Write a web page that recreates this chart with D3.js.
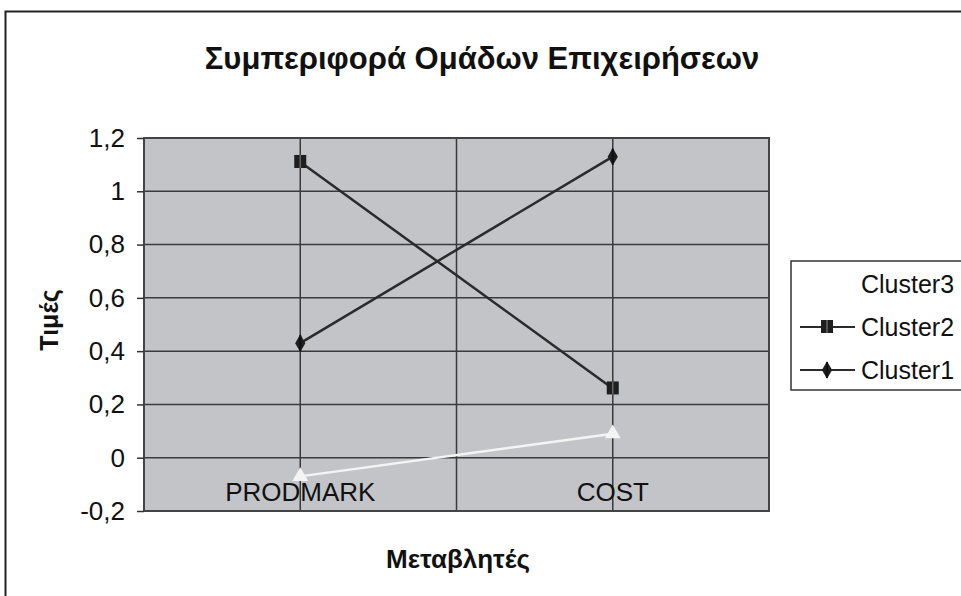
<!DOCTYPE html>
<html>
<head>
<meta charset="utf-8">
<script src="https://cdn.jsdelivr.net/npm/d3@7"></script>
<style>
  body { margin: 0; background: #fff; }
  svg { display: block; font-family: "Liberation Sans", Arial, sans-serif; }
</style>
</head>
<body>
<div id="chart"></div>
<script>
let W = 961, H = 596;
let title = "Συμπεριφορά Ομάδων Επιχειρήσεων";
let xTitle = "Μεταβλητές";
let yTitle = "Τιμές";
let categories = ["PRODMARK", "COST"];
let seriesNames = ["Cluster3", "Cluster2", "Cluster1"];
let cluster1 = [0.43, 1.13];
let cluster2 = [1.11, 0.26];
let cluster3 = [-0.07, 0.09];
let yTicks = [-0.2, 0, 0.2, 0.4, 0.6, 0.8, 1, 1.2];
let yTickLabels = ["-0,2", "0", "0,2", "0,4", "0,6", "0,8", "1", "1,2"];

let plot = { left: 144, right: 769, top: 138, bottom: 511 };

let svg = d3.select('#chart').append('svg')
    .attr('width', W)
    .attr('height', H);

// outer frame
svg.append('rect')
    .attr('x', 5.5).attr('y', 11.5)
    .attr('width', W + 20).attr('height', H + 20)
    .attr('fill', '#fff')
    .attr('stroke', '#222')
    .attr('stroke-width', 2);

svg.append('text')
    .attr('x', 482).attr('y', 69)
    .attr('text-anchor', 'middle')
    .attr('font-size', 31).attr('font-weight', 'bold')
    .attr('fill', '#111')
    .text(title);

let x = d3.scaleBand()
    .domain(categories)
    .range([plot.left, plot.right]);
let y = d3.scaleLinear()
    .domain([-0.2, 1.2])
    .range([plot.bottom, plot.top]);

// plot background
svg.append('rect')
    .attr('x', plot.left).attr('y', plot.top)
    .attr('width', plot.right - plot.left)
    .attr('height', plot.bottom - plot.top)
    .attr('fill', '#c2c4c7');

// horizontal gridlines
svg.append('g')
    .selectAll('line')
    .data(yTicks)
    .join('line')
    .attr('x1', plot.left).attr('x2', plot.right)
    .attr('y1', d => y(d)).attr('y2', d => y(d))
    .attr('stroke', '#3a3a3a')
    .attr('stroke-width', 1.5);

// vertical gridlines: category centres and boundaries
let vLines = [];
categories.forEach(c => {
    vLines.push(x(c));
    vLines.push(x(c) + x.bandwidth() / 2);
});
svg.append('g')
    .selectAll('line')
    .data(vLines)
    .join('line')
    .attr('x1', d => d).attr('x2', d => d)
    .attr('y1', plot.top).attr('y2', plot.bottom)
    .attr('stroke', '#3a3a3a')
    .attr('stroke-width', 1.5);

// plot border
svg.append('rect')
    .attr('x', plot.left).attr('y', plot.top)
    .attr('width', plot.right - plot.left)
    .attr('height', plot.bottom - plot.top)
    .attr('fill', 'none')
    .attr('stroke', '#444')
    .attr('stroke-width', 2);

// y axis
let yAxis = d3.axisLeft(y)
    .tickValues(yTicks)
    .tickSize(7)
    .tickPadding(12)
    .tickFormat((d, i) => yTickLabels[i]);
let gy = svg.append('g')
    .attr('transform', `translate(${plot.left},0)`)
    .call(yAxis);
gy.select('.domain').remove();
gy.selectAll('.tick line').attr('stroke', '#333').attr('stroke-width', 1.5);
gy.selectAll('.tick text')
    .attr('font-size', 26)
    .attr('font-family', '"Liberation Sans", Arial, sans-serif')
    .attr('fill', '#111');

// category labels inside plot bottom
svg.append('g')
    .selectAll('text')
    .data(categories)
    .join('text')
    .attr('x', d => x(d) + x.bandwidth() / 2)
    .attr('y', plot.bottom - 10)
    .attr('text-anchor', 'middle')
    .attr('font-size', 26)
    .attr('fill', '#111')
    .text(d => d);

svg.append('text')
    .attr('transform', 'translate(58,320) rotate(-90)')
    .attr('text-anchor', 'middle')
    .attr('font-size', 25).attr('font-weight', 'bold')
    .attr('fill', '#111')
    .text(yTitle);

svg.append('text')
    .attr('x', 458).attr('y', 568)
    .attr('text-anchor', 'middle')
    .attr('font-size', 26).attr('font-weight', 'bold')
    .attr('fill', '#111')
    .text(xTitle);

let cx = d => x(d) + x.bandwidth() / 2;
let line = d3.line()
    .x(d => cx(d.cat))
    .y(d => y(d.v));

let series = [
    { name: "Cluster3", values: cluster3, color: '#f4f4f4', marker: 'triangle' },
    { name: "Cluster2", values: cluster2, color: '#2a2a2a', marker: 'square' },
    { name: "Cluster1", values: cluster1, color: '#2a2a2a', marker: 'diamond' }
];

function drawMarker(g, type, px, py, color) {
    if (type === 'square') {
        g.append('rect')
            .attr('x', px - 6).attr('y', py - 7)
            .attr('width', 12).attr('height', 13)
            .attr('fill', '#1e1e1e');
        g.append('line')
            .attr('x1', px).attr('x2', px)
            .attr('y1', py - 7).attr('y2', py + 6)
            .attr('stroke', '#666').attr('stroke-width', 1.5);
    } else if (type === 'diamond') {
        let sym = d3.symbol().type(d3.symbolDiamond).size(90);
        g.append('path')
            .attr('d', sym())
            .attr('transform', `translate(${px},${py})`)
            .attr('fill', '#1e1e1e');
        g.append('line')
            .attr('x1', px).attr('x2', px)
            .attr('y1', py - 8).attr('y2', py + 8)
            .attr('stroke', '#111').attr('stroke-width', 2);
    } else {
        let sym = d3.symbol().type(d3.symbolTriangle).size(110);
        g.append('path')
            .attr('d', sym())
            .attr('transform', `translate(${px},${py})`)
            .attr('fill', color);
    }
}

series.forEach(s => {
    let pts = categories.map((c, i) => ({ cat: c, v: s.values[i] }));
    let g = svg.append('g');
    g.append('path')
        .datum(pts)
        .attr('d', line)
        .attr('fill', 'none')
        .attr('stroke', s.color)
        .attr('stroke-width', 2.5);
    pts.forEach(p => drawMarker(g, s.marker, cx(p.cat), y(p.v), s.color));
});

// legend
let legend = svg.append('g');
legend.append('rect')
    .attr('x', 791).attr('y', 261)
    .attr('width', 200).attr('height', 129)
    .attr('fill', '#fff')
    .attr('stroke', '#333')
    .attr('stroke-width', 1.5);
let legendY = d3.scalePoint()
    .domain(seriesNames)
    .range([284, 370]);
series.forEach(s => {
    let ly = legendY(s.name);
    legend.append('line')
        .attr('x1', 800).attr('x2', 855)
        .attr('y1', ly).attr('y2', ly)
        .attr('stroke', s.color === '#f4f4f4' ? '#fff' : s.color)
        .attr('stroke-width', 2);
    if (s.marker !== 'triangle') drawMarker(legend, s.marker, 827, ly, s.color);
    legend.append('text')
        .attr('x', 861).attr('y', ly + 9)
        .attr('font-size', 25)
        .attr('fill', '#111')
        .text(s.name);
});
</script>
</body>
</html>
